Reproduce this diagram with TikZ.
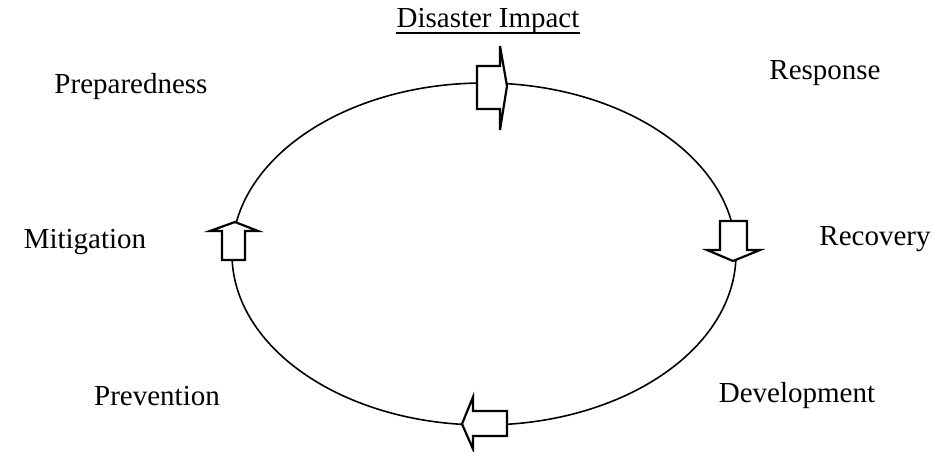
\documentclass[tikz,border=0pt]{standalone}
\usepackage{fontspec}
\setmainfont{Liberation Serif}
\usepackage{tikz}

\tikzset{
  phase/.style={anchor=base, inner sep=0pt, font=\fontsize{14.5}{17}\selectfont},
  blockarrow/.style={draw, fill=white, line width=1.1pt, line join=miter}
}

\begin{document}
\begin{tikzpicture}[x=0.5pt, y=-0.5pt]
\useasboundingbox (0,0) rectangle (934,451);
% the cycle
\draw [line width=0.8pt] (484,254) ellipse [x radius=252, y radius=171];
% block arrows on the cycle
\draw [blockarrow] (477,66) -- (500,66) -- (500,46) -- (507,86) -- (500,130) -- (500,109) -- (477,109) -- cycle;
\draw [blockarrow] (720,221) -- (747,221) -- (747,250) -- (760,250) -- (733,261) -- (707,250) -- (720,250) -- cycle;
\draw [blockarrow] (507,411) -- (473,411) -- (473,397) -- (462,424) -- (473,449) -- (473,436) -- (507,436) -- cycle;
\draw [blockarrow] (222,260) -- (222,231) -- (210,231) -- (235,222) -- (258,231) -- (245,231) -- (245,260) -- cycle;
% labels
\node [phase] (impact) at (488,27) {Disaster Impact};
\draw [line width=0.8pt] ([yshift=-3pt]impact.base west) -- ([yshift=-3pt]impact.base east);
\node [phase] (prep) at (131,93) {Preparedness};
\node [phase] (resp) at (825,79) {Response};
\node [phase] (miti) at (85,248) {Mitigation};
\node [phase] (reco) at (875,245) {Recovery};
\node [phase] (prev) at (157,405) {Prevention};
\node [phase] (deve) at (797,402) {Development};
\end{tikzpicture}
\end{document}
